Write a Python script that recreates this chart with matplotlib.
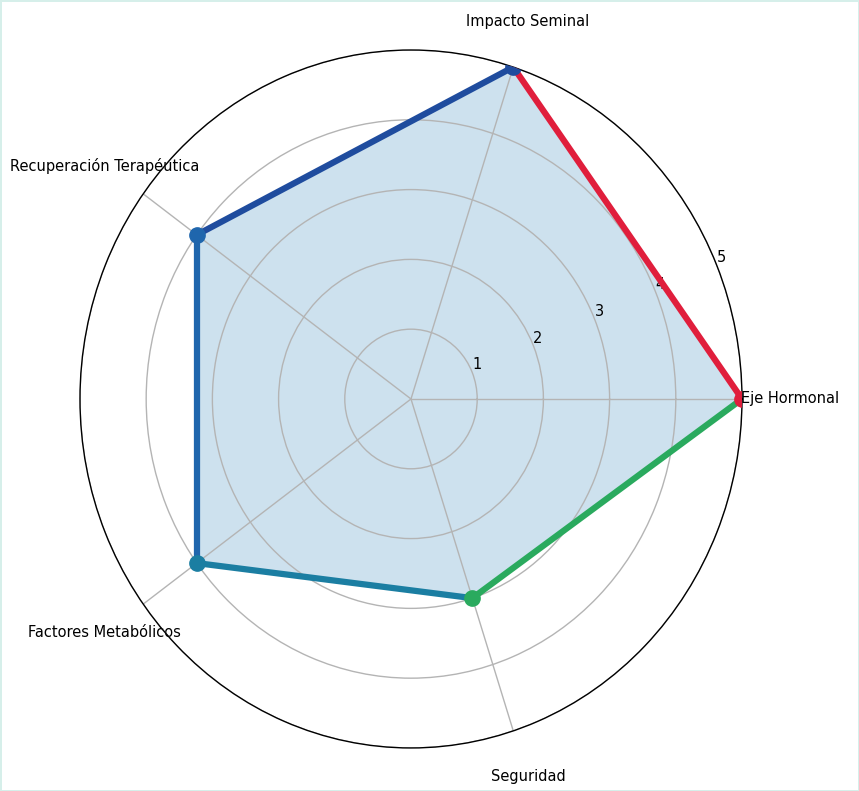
import numpy as np
import matplotlib
matplotlib.use("Agg")
import matplotlib.pyplot as plt

# Radar chart data
categories = ["Eje Hormonal", "Impacto Seminal", "Recuperación Terapéutica",
              "Factores Metabólicos", "Seguridad"]
values = [5, 5, 4, 4, 3]
r_ticks = [1, 2, 3, 4, 5]

SEG_COLOURS = ["#e01e3c", "#1f4c9e", "#1f66ad", "#1b7ea2", "#2aaa5e"]
FILL_COLOUR = "#1f77b4"

n = len(categories)
angles = [2 * np.pi * i / n for i in range(n)]

fig = plt.figure(figsize=(8.59, 7.91), dpi=100)
fig.patch.set_edgecolor("#d6efea")
fig.patch.set_linewidth(2)

ax = fig.add_axes([0.0931, 0.0544, 0.7707, 0.8824], projection="polar")
ax.set_aspect("auto")

# filled area
ang_closed = angles + angles[:1]
val_closed = values + values[:1]
ax.fill(ang_closed, val_closed, color=FILL_COLOUR, alpha=0.22, zorder=1)

# coloured edges, one segment per pair of axes
for i in range(n):
    j = (i + 1) % n
    ax.plot([angles[i], angles[j] if j else 2 * np.pi], [values[i], values[j]],
            color=SEG_COLOURS[i], linewidth=4.5, zorder=3, solid_capstyle="round")
for i in range(n):
    ax.plot([angles[i]], [values[i]], "o", color=SEG_COLOURS[i], markersize=11, zorder=4)

ax.set_ylim(0, 5)
ax.set_yticks(r_ticks)
ax.set_yticklabels([str(t) for t in r_ticks], fontsize=10.5)
ax.set_xticks(angles)
ax.set_xticklabels(categories, fontsize=10.5)
ax.tick_params(axis="x", pad=24)
ax.grid(color="#b4b4b4", linewidth=1)
ax.spines["polar"].set_color("black")
ax.spines["polar"].set_linewidth(1)

fig.savefig("out.png", dpi=100)
